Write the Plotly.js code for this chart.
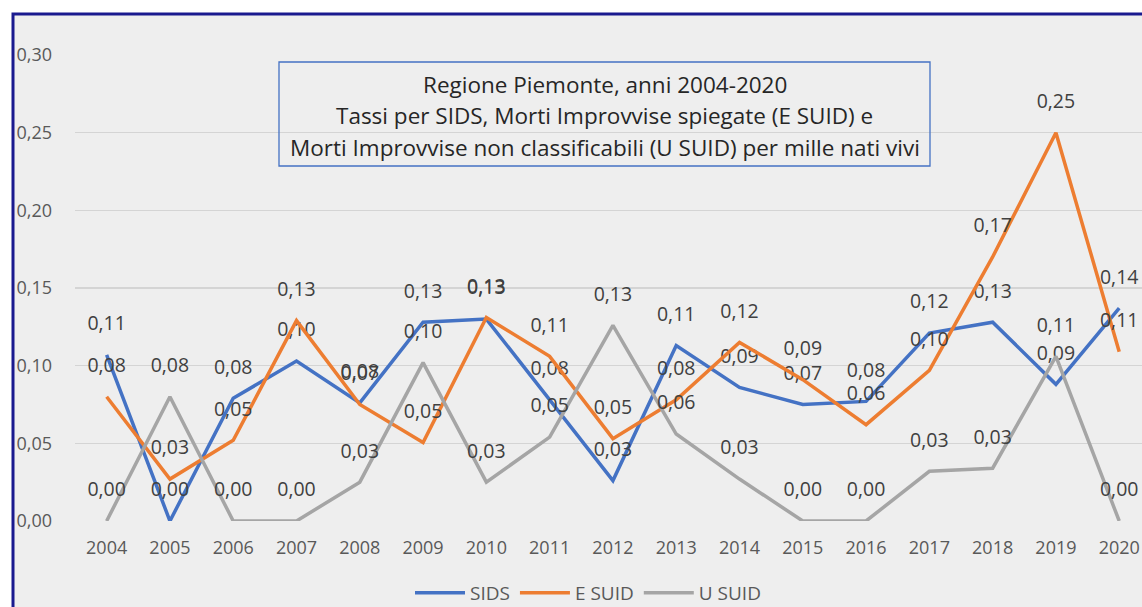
<!DOCTYPE html>
<html>
<head>
<meta charset="utf-8">
<script src="https://cdn.plot.ly/plotly-3.0.1.min.js"></script>
<style>html,body{margin:0;padding:0;background:#fff;}#chart{width:1142px;height:607px;}</style>
</head>
<body>
<div id="chart"></div>
<script>
var years = ['2004','2005','2006','2007','2008','2009','2010','2011','2012','2013','2014','2015','2016','2017','2018','2019','2020'];
var sids  = [0.107, 0.000, 0.079, 0.103, 0.076, 0.128, 0.130, 0.078, 0.026, 0.113, 0.086, 0.075, 0.077, 0.121, 0.128, 0.088, 0.137];
var esuid = [0.080, 0.027, 0.052, 0.129, 0.075, 0.0505, 0.131, 0.106, 0.053, 0.078, 0.115, 0.091, 0.062, 0.097, 0.170, 0.250, 0.109];
var usuid = [0.000, 0.080, 0.000, 0.000, 0.025, 0.102, 0.025, 0.054, 0.126, 0.056, 0.027, 0.000, 0.000, 0.032, 0.034, 0.106, 0.000];
var seriesNames = ['SIDS', 'E SUID', 'U SUID'];
var seriesColors = ['#4472c4', '#ed7d31', '#a5a5a5'];
var titleLines = ['Regione Piemonte, anni 2004-2020',
                  'Tassi per SIDS, Morti Improvvise spiegate (E SUID) e',
                  'Morti Improvvise non classificabili (U SUID) per mille nati vivi'];

var FONT = 'Open Sans, sans-serif';
var allData = [sids, esuid, usuid];
var traces = allData.map(function(vals, i){
  return {
    type: 'scatter', mode: 'lines+markers+text',
    x: years, y: vals, name: seriesNames[i],
    line: {color: seriesColors[i], width: 3.5},
    marker: {size: 30, color: 'rgba(0,0,0,0)', line: {width: 0}},
    texttemplate: '%{y:.2f}', textposition: 'top center',
    textfont: {family: FONT, size: 19.5, color: '#404040'},
    cliponaxis: false, hoverinfo: 'skip'
  };
});

var px2x = function(p){ return (p - 75) / 1067; };
var px2y = function(p){ return (521 - p) / 466; };
var titleY = [84, 115.5, 147];
var annotations = titleLines.map(function(t, i){
  return {text: t, xref: 'paper', yref: 'paper', x: px2x(604.5), y: px2y(titleY[i]),
          xanchor: 'center', yanchor: 'middle', showarrow: false,
          font: {family: FONT, size: 22.5, color: '#262626'}};
});

var layout = {
  width: 1142, height: 607,
  margin: {l: 75, r: 0, t: 55, b: 86, autoexpand: false},
  paper_bgcolor: '#ffffff', plot_bgcolor: 'rgba(0,0,0,0)',
  separators: ',.',
  showlegend: true,
  legend: {orientation: 'h', x: px2x(588), xanchor: 'center', y: px2y(593), yanchor: 'middle',
           font: {family: FONT, size: 19, color: '#595959'}, itemwidth: 50, bgcolor: 'rgba(0,0,0,0)'},
  xaxis: {type: 'category', categoryorder: 'array', categoryarray: years,
          range: [-0.5, 16.36], showgrid: false, zeroline: false, showline: false,
          ticks: '', ticklabelstandoff: 14,
          tickfont: {family: FONT, size: 18, color: '#595959'}, fixedrange: true},
  yaxis: {range: [0, 0.30], dtick: 0.05, tick0: 0, tickformat: '.2f',
          gridcolor: '#d4d4d4', gridwidth: 1.5, zeroline: false, showline: false,
          ticks: '', ticklabelstandoff: 22,
          tickfont: {family: FONT, size: 18, color: '#595959'}, fixedrange: true},
  shapes: [
    {type: 'rect', xref: 'paper', yref: 'paper', x0: px2x(13), x1: 1.2, y0: -0.4, y1: px2y(14),
     fillcolor: '#eeeeee', line: {color: '#1a1a8f', width: 3}, layer: 'below'},
    {type: 'rect', xref: 'paper', yref: 'paper', x0: px2x(279), x1: px2x(930), y0: px2y(166), y1: px2y(62),
     fillcolor: 'rgba(0,0,0,0)', line: {color: '#4472c4', width: 1.3}, layer: 'above'}
  ],
  annotations: annotations
};

Plotly.newPlot('chart', traces, layout, {staticPlot: true, displayModeBar: false});
</script>
</body>
</html>
